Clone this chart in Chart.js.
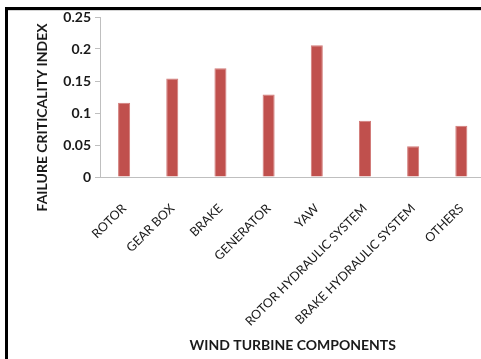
<!DOCTYPE html>
<html>
<head>
<meta charset="utf-8">
<script src="https://cdn.jsdelivr.net/npm/chart.js@4.4.1/dist/chart.umd.min.js"></script>
<style>
    html, body { margin: 0; padding: 0; background: #fff; overflow: hidden; }
    body { width: 481px; height: 359px; position: relative; }
    #wrap { position: absolute; left: 0; top: 0; width: 488px; height: 359px; }
    #frame {
        position: absolute; left: 5px; top: 7px; width: 480px; height: 360px;
        border-left: 3px solid #000; border-top: 3px solid #000; pointer-events: none;
    }
    #frame-inner {
        position: absolute; left: 8px; top: 10px; width: 480px; height: 1px; background: #d4d4d4;
    }
</style>
</head>
<body>
<div id="wrap"><canvas id="chart"></canvas></div>
<div id="frame"></div>
<div id="frame-inner"></div>
<script>
// ── Данные
const components = ['ROTOR', 'GEAR BOX', 'BRAKE', 'GENERATOR', 'YAW',
                    'ROTOR HYDRAULIC SYSTEM', 'BRAKE HYDRAULIC SYSTEM', 'OTHERS'];
const criticality = [0.116, 0.154, 0.170, 0.129, 0.206, 0.088, 0.048, 0.080];
const yTickLabels = ['0', '0.05', '0.1', '0.15', '0.2', '0.25'];

const FONT = 'Lato, "Open Sans", sans-serif';
const TEXT = '#1a1a1a';

// заголовок оси Y в Excel смещён вниз относительно области графика
const yTitle = 'FAILURE CRITICALITY INDEX' + ' '.repeat(12);

const ctx = document.getElementById('chart').getContext('2d');

new Chart(ctx, {
    type: 'bar',
    data: {
        labels: components,
        datasets: [{
            data:               criticality,
            backgroundColor:    '#C0504D',
            borderColor:        '#D27B79',
            borderWidth:        { left: 1, right: 1, top: 1, bottom: 0 },
            categoryPercentage: 1,
            barPercentage:      0.25
        }]
    },
    options: {
        responsive:          true,
        maintainAspectRatio: false,
        animation:           false,
        layout: { padding: { top: 17, right: 1, left: 0, bottom: 0 } },
        plugins: {
            legend:  { display: false },
            tooltip: { enabled: false }
        },
        scales: {
            x: {
                grid:   { display: false },
                border: { display: true, color: '#BFBFBF', width: 1 },
                ticks: {
                    color: TEXT, font: { family: FONT, size: 12.5 },
                    maxRotation: 45, minRotation: 45, padding: 16, autoSkip: false
                },
                title: {
                    display: true, text: 'WIND TURBINE COMPONENTS', color: TEXT,
                    font: { family: FONT, size: 14, weight: 'bold' },
                    padding: { top: 0, bottom: 5 }
                },
                afterFit: (scale) => { scale.height = 182; }
            },
            y: {
                min: 0, max: 0.25,
                grid: {
                    drawOnChartArea: false, drawTicks: true, tickLength: 5,
                    color: '#BFBFBF', tickColor: '#BFBFBF'
                },
                border: { display: true, color: '#BFBFBF', width: 1 },
                ticks: {
                    stepSize: 0.05, color: TEXT, padding: 4,
                    font: { family: FONT, size: 14, weight: 'bold' },
                    callback: (v, i) => yTickLabels[i]
                },
                title: {
                    display: true, text: yTitle, color: TEXT,
                    font: { family: FONT, size: 14, weight: 'bold' },
                    padding: { top: 34, bottom: 0 }
                },
                afterFit: (scale) => { scale.width = 100; }
            }
        }
    }
});
</script>
</body>
</html>
